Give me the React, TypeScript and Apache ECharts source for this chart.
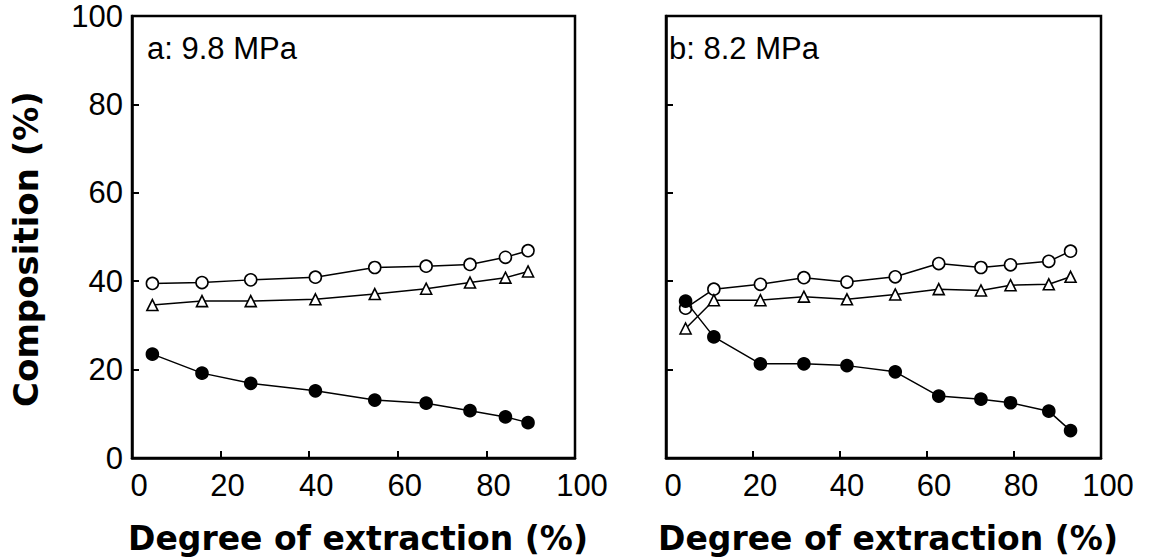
import React, { useEffect, useRef } from 'react';
import * as echarts from 'echarts';

// Panel a: 9.8 MPa
const aX = [4.6, 15.8, 26.8, 41.4, 54.8, 66.4, 76.3, 84.3, 89.4];
const aOpen = [39.5, 39.7, 40.3, 40.9, 43.1, 43.4, 43.8, 45.4, 46.9];
const aTri = [34.6, 35.5, 35.5, 35.9, 37.1, 38.3, 39.7, 40.8, 42.2];
const aFilled = [23.5, 19.2, 16.9, 15.2, 13.1, 12.4, 10.7, 9.3, 8.0];

// Panel b: 8.2 MPa
const bX = [4.5, 11.0, 21.7, 31.7, 41.6, 52.7, 62.7, 72.4, 79.2, 88.0, 93.0];
const bOpen = [33.9, 38.2, 39.3, 40.8, 39.8, 41.0, 44.0, 43.1, 43.7, 44.5, 46.8];
const bTri = [29.3, 35.7, 35.7, 36.5, 35.9, 37.0, 38.2, 37.9, 39.1, 39.3, 41.0];
const bFilled = [35.5, 27.4, 21.3, 21.3, 20.9, 19.5, 14.0, 13.3, 12.5, 10.6, 6.2];

const panelLabels = ['a: 9.8 MPa', 'b: 8.2 MPa'];
const xTitle = 'Degree of extraction (%)';
const yTitle = 'Composition (%)';

const zip = (xs: number[], ys: number[]) => xs.map((x, i) => [x, ys[i]]);

const TICK_FONT = 'Liberation Sans, Arial, sans-serif';
const TITLE_FONT = 'DejaVu Sans, sans-serif';

export default function App() {
  const ref = useRef<HTMLDivElement>(null);
  useEffect(() => {
    if (!ref.current) return;
    const chart = echarts.init(ref.current, undefined, { renderer: 'svg' });
    const grids = [
      { left: 132, top: 16, width: 443, height: 442 },
      { left: 666, top: 16, width: 435, height: 442 },
    ];
    const xAxis = grids.map((_, i) => ({
      type: 'value',
      gridIndex: i,
      min: 0,
      max: 100,
      interval: 20,
      axisLine: { show: true, lineStyle: { color: '#000', width: 2.5 } },
      axisTick: { show: true, inside: true, length: 7, lineStyle: { color: '#000', width: 2 } },
      splitLine: { show: false },
      axisLabel: {
        show: true,
        color: '#000',
        fontSize: 31,
        fontFamily: TICK_FONT,
        margin: 12,
        padding: [0, 0, 0, 14],
        showMinLabel: true,
        showMaxLabel: true,
      },
    }));
    const yAxis = grids.map((_, i) => ({
      type: 'value',
      gridIndex: i,
      min: 0,
      max: 100,
      interval: 20,
      axisLine: { show: true, lineStyle: { color: '#000', width: 2.5 } },
      axisTick: { show: true, inside: true, length: 7, lineStyle: { color: '#000', width: 2 } },
      splitLine: { show: false },
      axisLabel: {
        show: i === 0,
        color: '#000',
        fontSize: 31,
        fontFamily: TICK_FONT,
        margin: 9,
        padding: [8, 0, 0, 0],
      },
    }));
    const mk = (name: string, data: number[][], idx: number, symbol: string, filled: boolean, size: number) => ({
      name,
      type: 'line',
      xAxisIndex: idx,
      yAxisIndex: idx,
      data,
      symbol,
      symbolSize: size,
      showSymbol: true,
      lineStyle: { color: '#000', width: 1.5 },
      itemStyle: { color: filled ? '#000' : '#fff', borderColor: '#000', borderWidth: 1.6 },
      z: filled ? 4 : 3,
    });
    chart.setOption({
      animation: false,
      backgroundColor: '#fff',
      grid: grids.map((g) => ({ ...g, show: true, borderColor: '#000', borderWidth: 2.5, backgroundColor: 'transparent' })),
      xAxis,
      yAxis,
      series: [
        mk('a open', zip(aX, aOpen), 0, 'circle', false, 12),
        mk('a triangle', zip(aX, aTri), 0, 'triangle', false, 11),
        mk('a filled', zip(aX, aFilled), 0, 'circle', true, 12),
        mk('b open', zip(bX, bOpen), 1, 'circle', false, 12),
        mk('b triangle', zip(bX, bTri), 1, 'triangle', false, 11),
        mk('b filled', zip(bX, bFilled), 1, 'circle', true, 12),
      ],
      graphic: [
        {
          type: 'text', left: 147, top: 33,
          style: { text: panelLabels[0], fontSize: 31, fontFamily: TICK_FONT, fill: '#000' },
        },
        {
          type: 'text', left: 669, top: 33,
          style: { text: panelLabels[1], fontSize: 31, fontFamily: TICK_FONT, fill: '#000' },
        },
        {
          type: 'text', x: 358, y: 538,
          style: { text: xTitle, fontSize: 33, fontWeight: 'bold', fontFamily: TITLE_FONT, fill: '#000', align: 'center', verticalAlign: 'middle' },
        },
        {
          type: 'text', x: 888, y: 538,
          style: { text: xTitle, fontSize: 33, fontWeight: 'bold', fontFamily: TITLE_FONT, fill: '#000', align: 'center', verticalAlign: 'middle' },
        },
        {
          type: 'text', x: 26, y: 249, rotation: Math.PI / 2,
          style: { text: yTitle, fontSize: 34, fontWeight: 'bold', fontFamily: TITLE_FONT, fill: '#000', align: 'center', verticalAlign: 'middle' },
        },
      ],
    });
    return () => chart.dispose();
  }, []);
  return <div ref={ref} style={{ width: 1149, height: 560, position: 'absolute', left: 0, top: 0 }} />;
}
